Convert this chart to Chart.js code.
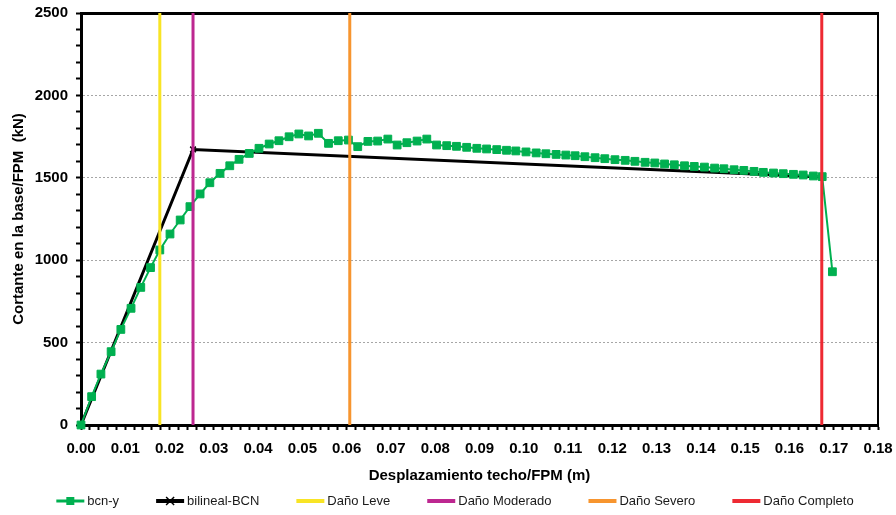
<!DOCTYPE html>
<html lang="es">
<head>
<meta charset="UTF-8">
<title>Curva de capacidad bcn-y</title>
<script src="https://cdn.jsdelivr.net/npm/chart.js"></script>
<style>
  html, body { margin: 0; padding: 0; background: #fff; }
  #wrap { width: 896px; height: 515px; position: relative; }
</style>
</head>
<body>
<div id="wrap"><canvas id="curva"></canvas></div>
<script>
// curva de capacidad bcn-y: desplazamiento (m) y cortante en la base (kN)
const despBcn = [0, 0.0024, 0.0045, 0.0068, 0.0090, 0.0113, 0.0135, 0.0157, 0.0178, 0.0201,
  0.0224, 0.0246, 0.0269, 0.0291, 0.0314, 0.0336, 0.0357, 0.0380, 0.0402, 0.0425,
  0.0447, 0.0470, 0.0492, 0.0514, 0.0536, 0.0559, 0.0581, 0.0604, 0.0625, 0.0648,
  0.0670, 0.0693, 0.0714, 0.0736, 0.0759, 0.0781, 0.0803, 0.0826, 0.0848, 0.0871,
  0.0894, 0.0916, 0.0939, 0.0961, 0.0982, 0.1005, 0.1028, 0.1050, 0.1073, 0.1095,
  0.1116, 0.1138, 0.1161, 0.1183, 0.1206, 0.1229, 0.1251, 0.1274, 0.1296, 0.1318,
  0.1340, 0.1363, 0.1385, 0.1408, 0.1431, 0.1452, 0.1475, 0.1497, 0.1520, 0.1541,
  0.1564, 0.1586, 0.1609, 0.1631, 0.1654, 0.1674, 0.1697];
const cortBcn = [0, 172, 309, 445, 580, 708, 835, 955, 1062, 1159,
  1244, 1325, 1402, 1470, 1527, 1573, 1612, 1648, 1679, 1705,
  1725, 1749, 1766, 1754, 1770, 1709, 1725, 1729, 1689, 1721,
  1723, 1735, 1699, 1713, 1723, 1735, 1699, 1695, 1691, 1685,
  1679, 1675, 1671, 1667, 1663, 1657, 1651, 1646, 1642, 1638,
  1634, 1628, 1622, 1616, 1610, 1606, 1600, 1594, 1590, 1584,
  1579, 1573, 1569, 1565, 1559, 1555, 1549, 1545, 1539, 1533,
  1529, 1525, 1521, 1517, 1511, 1507, 930];

// bilineal
const despBil = [0, 0.0253, 0.1673];
const cortBil = [0, 1672, 1505];

// umbrales de daño (líneas verticales)
const danoNombres = ['Daño Leve', 'Daño Moderado', 'Daño Severo', 'Daño Completo'];
const danoDesp = [0.0178, 0.0253, 0.0607, 0.1673];
const cortRango = [0, 2500];

const danoColores = ['#F8E425', '#BD2790', '#F7952F', '#EE2A33'];
const FUENTE = '"Liberation Sans", Arial, sans-serif';

const pares = (xs, ys) => xs.map((x, i) => ({ x: x, y: ys[i] }));

const datasets = [
  {
    label: 'bcn-y', data: pares(despBcn, cortBcn), order: 1,
    borderColor: '#00B050', backgroundColor: '#00B050', borderWidth: 2,
    pointStyle: 'rect', pointRadius: 5.5, pointBorderWidth: 1,
    pointBorderColor: '#00B050', pointBackgroundColor: '#00B050', legendWidth: 3
  },
  {
    label: 'bilineal-BCN', data: pares(despBil, cortBil), order: 2,
    borderColor: '#000', backgroundColor: '#000', borderWidth: 3,
    pointStyle: 'crossRot', pointRadius: 4, pointBorderWidth: 1.5,
    pointBorderColor: '#000', legendWidth: 4
  }
].concat(danoNombres.map((nombre, i) => ({
  label: nombre, data: cortRango.map(y => ({ x: danoDesp[i], y: y })), order: 0,
  borderColor: danoColores[i], backgroundColor: danoColores[i], borderWidth: 3,
  pointRadius: 0, legendWidth: 4
})));

// leyenda dibujada a mano para copiar el espaciado de Excel
const leyenda = {
  id: 'leyenda',
  afterDraw(chart) {
    const ctx = chart.ctx;
    ctx.save();
    ctx.font = '13px ' + FUENTE;
    ctx.textBaseline = 'middle';
    const muestra = 28, hueco = 3, sep = 37, y = 501;
    const items = chart.data.datasets.map(ds => ({ ds: ds, w: muestra + hueco + ctx.measureText(ds.label).width }));
    const total = items.reduce((s, it) => s + it.w, 0) + sep * (items.length - 1);
    let x = 455 - total / 2;
    items.forEach(({ ds, w }) => {
      ctx.strokeStyle = ds.borderColor;
      ctx.lineWidth = ds.legendWidth;
      ctx.beginPath(); ctx.moveTo(x, y); ctx.lineTo(x + muestra, y); ctx.stroke();
      const cx = x + muestra / 2;
      if (ds.pointStyle === 'rect') {
        ctx.fillStyle = ds.borderColor;
        ctx.fillRect(cx - 4, y - 4, 8, 8);
      } else if (ds.pointStyle === 'crossRot') {
        ctx.lineWidth = 1.5;
        ctx.beginPath();
        ctx.moveTo(cx - 4, y - 4); ctx.lineTo(cx + 4, y + 4);
        ctx.moveTo(cx + 4, y - 4); ctx.lineTo(cx - 4, y + 4);
        ctx.stroke();
      }
      ctx.fillStyle = '#1a1a1a';
      ctx.fillText(ds.label, x + muestra + hueco, y);
      x += w + sep;
    });
    ctx.restore();
  }
};

const fuenteEje = { family: FUENTE, size: 15, weight: 'bold' };

new Chart(document.getElementById('curva'), {
  type: 'scatter',
  data: { datasets: datasets },
  options: {
    responsive: true,
    maintainAspectRatio: false,
    animation: false,
    showLine: true,
    datasets: { scatter: { showLine: true, clip: false, tension: 0 } },
    layout: { padding: { top: 13, right: 18, bottom: 30, left: 0 } },
    plugins: { legend: { display: false }, tooltip: { enabled: false } },
    scales: {
      x: {
        type: 'linear', position: 'bottom', min: 0, max: 0.18,
        afterFit: s => { s.height = 60; s.paddingLeft = 0; s.paddingRight = 0; },
        border: { color: '#000', width: 3 },
        grid: { drawOnChartArea: false, drawTicks: true, tickLength: 5, tickColor: '#000', tickWidth: 2 },
        ticks: {
          stepSize: 0.002, autoSkip: false, maxRotation: 0, minRotation: 0, padding: 10,
          color: '#000', font: fuenteEje,
          callback: (v, i) => i % 5 === 0 ? v.toFixed(2) : ''
        },
        title: { display: true, text: 'Desplazamiento techo/FPM (m)', color: '#000', font: fuenteEje, padding: 0 }
      },
      y: {
        type: 'linear', position: 'left', min: 0, max: 2500,
        afterFit: s => { s.width = 81; s.paddingTop = 0; s.paddingBottom = 0; },
        border: { color: '#000', width: 3, dash: [2, 2] },
        grid: {
          color: c => (c.tick && c.tick.value % 500 === 0 && c.tick.value > 0 && c.tick.value < 2500) ? '#a6a6a6' : 'rgba(0,0,0,0)',
          lineWidth: 1, drawTicks: true, tickLength: 5, tickColor: '#000', tickWidth: 2
        },
        ticks: {
          stepSize: 100, autoSkip: false, padding: 8, color: '#000', font: fuenteEje,
          callback: v => v % 500 === 0 ? v : ''
        },
        title: { display: true, text: 'Cortante en la base/FPM  (kN)', color: '#000', font: fuenteEje, padding: { top: 10, bottom: 0 } }
      },
      xMarco: {
        type: 'linear', position: 'top', min: 0, max: 0.18,
        afterFit: s => { s.height = 0; s.paddingLeft = 0; s.paddingRight = 0; },
        border: { color: '#000', width: 3 },
        grid: { drawOnChartArea: false, drawTicks: false },
        ticks: { display: false }
      },
      yMarco: {
        type: 'linear', position: 'right', min: 0, max: 2500,
        afterFit: s => { s.width = 0; s.paddingTop = 0; s.paddingBottom = 0; },
        border: { color: '#000', width: 2 },
        grid: { drawOnChartArea: false, drawTicks: false },
        ticks: { display: false }
      }
    }
  },
  plugins: [leyenda]
});
</script>
</body>
</html>
